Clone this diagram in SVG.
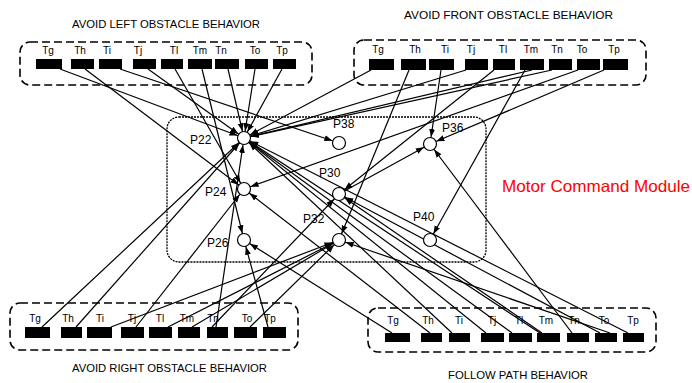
<svg xmlns="http://www.w3.org/2000/svg" width="692" height="383" viewBox="0 0 692 383">
<style>
text{font-family:"Liberation Sans",Arial,sans-serif;fill:#000}
.t{font-size:10px;text-anchor:middle}
.ttl{font-size:10.5px}
.pl{font-size:12px}
.box{fill:none;stroke:#000;stroke-width:1.6;stroke-dasharray:8 4}
.mod{fill:none;stroke:#000;stroke-width:1.3;stroke-dasharray:2 1}
.bar{fill:#000}
.place{fill:#fff;stroke:#000;stroke-width:1.2}
#connectors line{stroke:#000;stroke-width:1.2;marker-end:url(#arr)}
</style>
<defs>
<marker id="arr" markerUnits="userSpaceOnUse" markerWidth="16" markerHeight="8" viewBox="0 0 16 8" refX="15" refY="4" orient="auto">
<path d="M0 1 L8 4 L0 7 Z" fill="#000"/>
</marker>
</defs>
<rect width="692" height="383" fill="#fff"/>

<g id="module">
<rect class="mod" x="167" y="117" width="319" height="145" rx="12"/>
<text x="502" y="192" font-size="16.5" fill="#ff0000" style="fill:#ff0000" textLength="188" lengthAdjust="spacingAndGlyphs">Motor Command Module</text>
</g>

<g id="connectors">
<line x1="60" y1="69" x2="244" y2="138"/>
<line x1="85" y1="69" x2="244" y2="189"/>
<line x1="120" y1="69" x2="339" y2="143"/>
<line x1="148" y1="69" x2="244" y2="138"/>
<line x1="175" y1="69" x2="244" y2="189"/>
<line x1="202" y1="69" x2="244" y2="240"/>
<line x1="228" y1="69" x2="244" y2="138"/>
<line x1="255" y1="69" x2="244" y2="138"/>
<line x1="282" y1="69" x2="244" y2="138"/>
<line x1="371" y1="70" x2="244" y2="138"/>
<line x1="409" y1="70" x2="339" y2="240"/>
<line x1="441" y1="70" x2="430" y2="144"/>
<line x1="466" y1="70" x2="244" y2="138"/>
<line x1="494" y1="70" x2="339" y2="194"/>
<line x1="525" y1="70" x2="430" y2="240"/>
<line x1="532" y1="70" x2="244" y2="138"/>
<line x1="552" y1="70" x2="244" y2="138"/>
<line x1="578" y1="70" x2="244" y2="189"/>
<line x1="604" y1="70" x2="430" y2="144"/>
<line x1="42" y1="327" x2="244" y2="138"/>
<line x1="76" y1="327" x2="244" y2="138"/>
<line x1="111" y1="327" x2="339" y2="240"/>
<line x1="136" y1="327" x2="244" y2="189"/>
<line x1="168" y1="327" x2="339" y2="240"/>
<line x1="192" y1="327" x2="339" y2="240"/>
<line x1="216" y1="327" x2="244" y2="138"/>
<line x1="212" y1="327" x2="339" y2="194"/>
<line x1="250" y1="327" x2="339" y2="240"/>
<line x1="268" y1="327" x2="244" y2="240"/>
<line x1="392" y1="333" x2="244" y2="240"/>
<line x1="430" y1="333" x2="244" y2="189"/>
<line x1="452" y1="333" x2="244" y2="138"/>
<line x1="486" y1="333" x2="244" y2="138"/>
<line x1="512" y1="333" x2="244" y2="138"/>
<line x1="540" y1="333" x2="244" y2="138"/>
<line x1="542" y1="333" x2="339" y2="194"/>
<line x1="572" y1="333" x2="430" y2="144"/>
<line x1="600" y1="333" x2="339" y2="194"/>
<line x1="628" y1="333" x2="244" y2="138"/>
<line x1="610" y1="333" x2="339" y2="240"/>
<line x1="339" y1="194" x2="430" y2="144"/>
</g>

<g id="P22"><circle class="place" cx="244" cy="138" r="6.5"/><text class="pl" x="190" y="144">P22</text></g>
<g id="P24"><circle class="place" cx="244" cy="189" r="6.5"/><text class="pl" x="205" y="196">P24</text></g>
<g id="P26"><circle class="place" cx="244" cy="240" r="6.5"/><text class="pl" x="207" y="247">P26</text></g>
<g id="P38"><circle class="place" cx="339" cy="143" r="6.5"/><text class="pl" x="333" y="128">P38</text></g>
<g id="P30"><circle class="place" cx="339" cy="194" r="6.5"/><text class="pl" x="319" y="177">P30</text></g>
<g id="P32"><circle class="place" cx="339" cy="240" r="6.5"/><text class="pl" x="303" y="223">P32</text></g>
<g id="P36"><circle class="place" cx="430" cy="144" r="6.5"/><text class="pl" x="442" y="132">P36</text></g>
<g id="P40"><circle class="place" cx="430" cy="240" r="6.5"/><text class="pl" x="413" y="221">P40</text></g>

<g id="avoid-left">
<text class="ttl" x="72" y="28" textLength="188" lengthAdjust="spacingAndGlyphs">AVOID LEFT OBSTACLE BEHAVIOR</text>
<rect class="box" x="20" y="42" width="292" height="43" rx="10"/>
<rect class="bar" x="36" y="59" width="26" height="10"/><rect class="bar" x="71" y="59" width="23" height="10"/><rect class="bar" x="99" y="59" width="23" height="10"/><rect class="bar" x="133" y="59" width="23" height="10"/><rect class="bar" x="161" y="59" width="22" height="10"/><rect class="bar" x="188" y="59" width="24" height="10"/><rect class="bar" x="215" y="59" width="24" height="10"/><rect class="bar" x="245" y="59" width="23" height="10"/><rect class="bar" x="273" y="59" width="23" height="10"/>
<text class="t" x="48" y="54">Tg</text><text class="t" x="80" y="54">Th</text><text class="t" x="107" y="54">Ti</text><text class="t" x="138" y="54">Tj</text><text class="t" x="174" y="54">Tl</text><text class="t" x="200" y="54">Tm</text><text class="t" x="221" y="54">Tn</text><text class="t" x="255" y="54">To</text><text class="t" x="282" y="54">Tp</text>
</g>

<g id="avoid-front">
<text class="ttl" x="404" y="19" textLength="209" lengthAdjust="spacingAndGlyphs">AVOID FRONT OBSTACLE BEHAVIOR</text>
<rect class="box" x="354" y="40" width="292" height="45" rx="10"/>
<rect class="bar" x="369" y="59" width="25" height="11"/><rect class="bar" x="401" y="59" width="25" height="11"/><rect class="bar" x="429" y="59" width="25" height="11"/><rect class="bar" x="465" y="59" width="23" height="11"/><rect class="bar" x="493" y="59" width="22" height="11"/><rect class="bar" x="520" y="59" width="24" height="11"/><rect class="bar" x="549" y="59" width="23" height="11"/><rect class="bar" x="577" y="59" width="23" height="11"/><rect class="bar" x="603" y="59" width="25" height="11"/>
<text class="t" x="378" y="53">Tg</text><text class="t" x="415" y="53">Th</text><text class="t" x="445" y="53">Ti</text><text class="t" x="471" y="53">Tj</text><text class="t" x="503" y="53">Tl</text><text class="t" x="531" y="53">Tm</text><text class="t" x="557" y="53">Tn</text><text class="t" x="582" y="53">To</text><text class="t" x="614" y="53">Tp</text>
</g>

<g id="avoid-right">
<rect class="box" x="10" y="303" width="288" height="47" rx="10"/>
<rect class="bar" x="25" y="327" width="25" height="11"/><rect class="bar" x="61" y="327" width="21" height="11"/><rect class="bar" x="87" y="327" width="25" height="11"/><rect class="bar" x="121" y="327" width="23" height="11"/><rect class="bar" x="149" y="327" width="23" height="11"/><rect class="bar" x="178" y="327" width="22" height="11"/><rect class="bar" x="207" y="327" width="21" height="11"/><rect class="bar" x="234" y="327" width="23" height="11"/><rect class="bar" x="263" y="327" width="23" height="11"/>
<text class="t" x="35" y="322">Tg</text><text class="t" x="68" y="322">Th</text><text class="t" x="100" y="322">Ti</text><text class="t" x="132" y="322">Tj</text><text class="t" x="160" y="322">Tl</text><text class="t" x="187" y="322">Tm</text><text class="t" x="213" y="322">Tn</text><text class="t" x="247" y="322">To</text><text class="t" x="270" y="322">Tp</text>
<text class="ttl" x="72" y="372" textLength="195" lengthAdjust="spacingAndGlyphs">AVOID RIGHT OBSTACLE BEHAVIOR</text>
</g>

<g id="follow-path">
<rect class="box" x="368" y="308" width="288" height="44" rx="10"/>
<rect class="bar" x="385" y="333" width="25" height="9"/><rect class="bar" x="421" y="333" width="21" height="9"/><rect class="bar" x="449" y="333" width="21" height="9"/><rect class="bar" x="481" y="333" width="23" height="9"/><rect class="bar" x="509" y="333" width="23" height="9"/><rect class="bar" x="537" y="333" width="23" height="9"/><rect class="bar" x="567" y="333" width="22" height="9"/><rect class="bar" x="595" y="333" width="22" height="9"/><rect class="bar" x="623" y="333" width="21" height="9"/>
<text class="t" x="393" y="324">Tg</text><text class="t" x="428" y="324">Th</text><text class="t" x="459" y="324">Ti</text><text class="t" x="492" y="324">Tj</text><text class="t" x="519" y="324">Tl</text><text class="t" x="546" y="324">Tm</text><text class="t" x="574" y="324">Tn</text><text class="t" x="604" y="324">To</text><text class="t" x="633" y="324">Tp</text>
<text class="ttl" x="448" y="379" textLength="140" lengthAdjust="spacingAndGlyphs">FOLLOW PATH BEHAVIOR</text>
</g>
</svg>
